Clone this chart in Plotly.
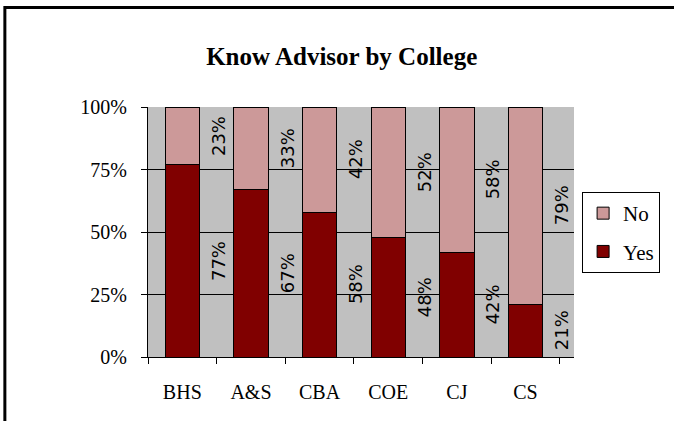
import plotly.graph_objects as go

# Data
colleges = ["BHS", "A&S", "CBA", "COE", "CJ", "CS"]
yes_pct = [77, 67, 58, 48, 42, 21]
no_pct = [23, 33, 42, 52, 58, 79]
y_ticks = [0, 25, 50, 75, 100]
y_tick_labels = ["0%", "25%", "50%", "75%", "100%"]

COLORS = {
    "yes": "#800000",
    "no": "#CC9999",
    "plot_bg": "#C0C0C0",
    "line": "#000000",
}
SERIF = "Liberation Serif"
SANS = "DejaVu Sans"

fig = go.Figure()
fig.add_trace(
    go.Bar(
        x=colleges,
        y=yes_pct,
        name="Yes",
        legendgroup="yes",
        legendrank=2,
        marker=dict(color=COLORS["yes"], line=dict(color=COLORS["line"], width=1)),
        hoverinfo="x+y",
    )
)
fig.add_trace(
    go.Bar(
        x=colleges,
        y=no_pct,
        name="No",
        legendgroup="no",
        legendrank=1,
        marker=dict(color=COLORS["no"], line=dict(color=COLORS["line"], width=1)),
        hoverinfo="x+y",
    )
)

# rotated value labels, sitting just right of each bar segment
annotations = []
for c, yv, nv in zip(colleges, yes_pct, no_pct):
    for val, mid in ((yv, yv / 2), (nv, yv + nv / 2)):
        annotations.append(
            dict(
                x=c,
                y=mid,
                xref="x",
                yref="y",
                text=f"{val}%",
                textangle=-90,
                showarrow=False,
                xshift=36,
                font=dict(family=SANS, size=18, color="#000000"),
            )
        )

fig.update_layout(
    width=674,
    height=421,
    barmode="stack",
    bargap=0.5,
    paper_bgcolor="white",
    plot_bgcolor=COLORS["plot_bg"],
    margin=dict(l=148, r=100, t=107, b=64),
    font=dict(family=SERIF, size=20, color="#000000"),
    title=dict(
        text="Know Advisor by College",
        font=dict(family=SERIF, size=25, color="#000000", weight="bold"),
        x=0.507,
        xref="container",
        xanchor="center",
        y=0.867,
        yref="container",
        yanchor="middle",
    ),
    xaxis=dict(
        type="category",
        showline=True,
        linecolor=COLORS["line"],
        linewidth=1,
        ticks="outside",
        tickson="boundaries",
        ticklen=6,
        tickcolor=COLORS["line"],
        ticklabelstandoff=17,
        showgrid=False,
        zeroline=False,
    ),
    yaxis=dict(
        range=[0, 100],
        tickvals=y_ticks,
        ticktext=y_tick_labels,
        showline=True,
        linecolor=COLORS["line"],
        linewidth=1,
        ticks="outside",
        ticklen=6,
        tickcolor=COLORS["line"],
        ticklabelstandoff=10,
        showgrid=True,
        gridcolor=COLORS["line"],
        gridwidth=1,
        zeroline=False,
    ),
    legend=dict(
        x=1.019,
        y=0.66,
        xanchor="left",
        yanchor="top",
        traceorder="grouped",
        tracegroupgap=8,
        bgcolor="white",
        bordercolor=COLORS["line"],
        borderwidth=1,
        font=dict(family=SERIF, size=21, color="#000000"),
        itemwidth=30,
    ),
    annotations=annotations,
    shapes=[
        # outer chart frame, runs off the right and bottom edges
        dict(
            type="rect",
            xref="paper",
            yref="paper",
            x0=-0.336,
            x1=1.26,
            y0=-0.3,
            y1=1.398,
            line=dict(color="#000000", width=3),
            fillcolor="rgba(0,0,0,0)",
            layer="below",
        )
    ],
)

# browser default body margin would push the figure off by 8px
fig.write_html(
    "out.html",
    config={"displayModeBar": False},
    post_script="document.body.style.margin='0';",
)
